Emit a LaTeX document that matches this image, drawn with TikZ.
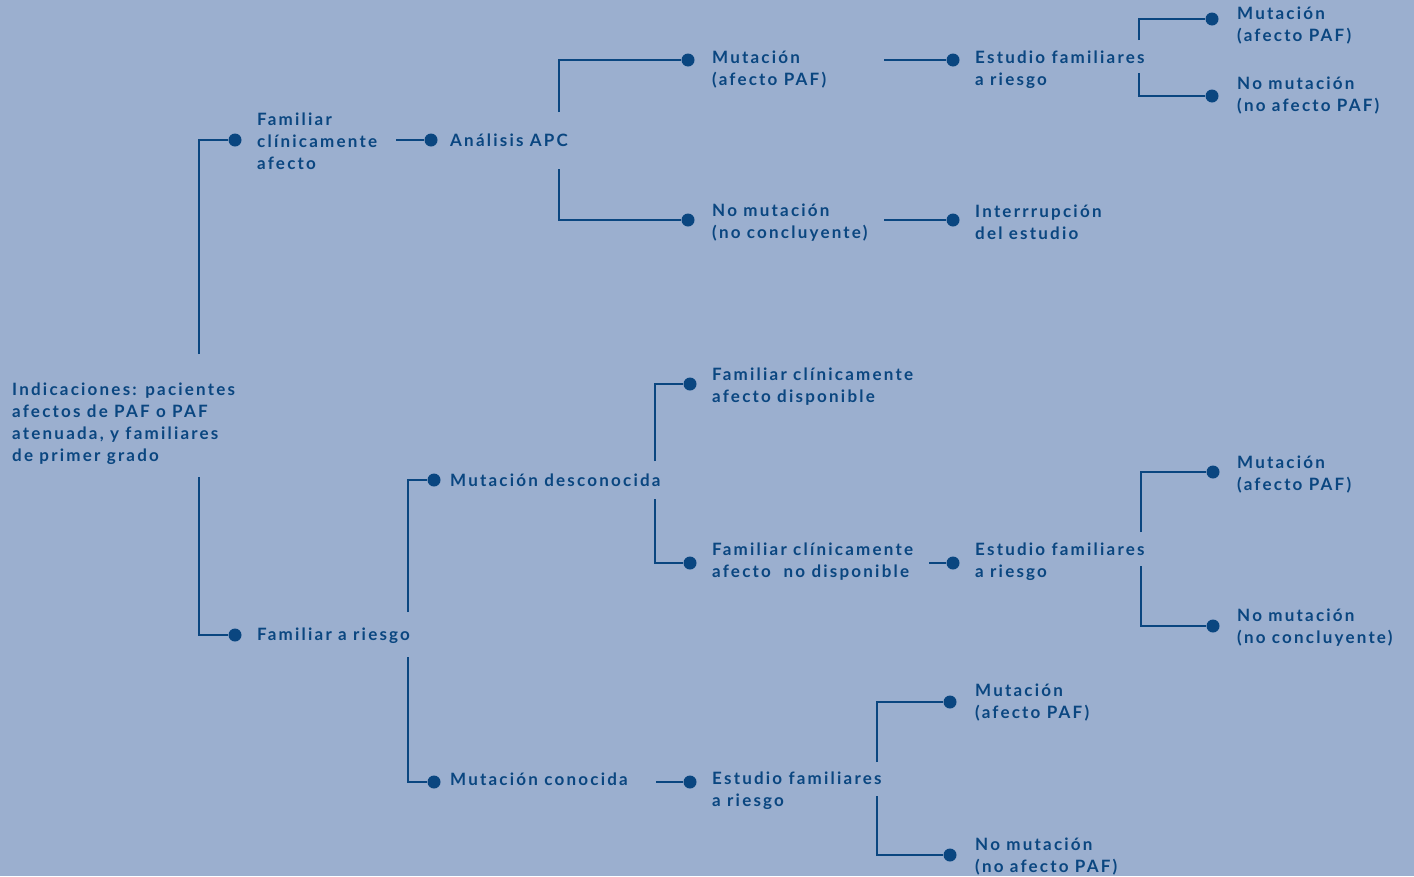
\documentclass[tikz,border=0pt]{standalone}
\usepackage{fontspec}
\setmainfont{Lato}[LetterSpace=13]
\definecolor{bg}{RGB}{155,175,207}
\definecolor{fg}{RGB}{10,70,128}
\begin{document}
\begin{tikzpicture}[x=1pt,y=-1pt,
  dot/.style={circle,fill=fg,inner sep=0pt,minimum size=13pt},
  lbl/.style={anchor=west,align=left,inner sep=0pt,text=fg,font=\fontsize{17}{22}\selectfont\bfseries},
  ln/.style={draw=fg,line width=2.6pt}]
\fill[bg] (0,0) rectangle (1414,876);
\useasboundingbox (0,0) rectangle (1414,876);
% root
\node[lbl] (root) at (12,424) {Indicaciones: pacientes\\afectos de PAF o PAF\\atenuada, y familiares\\de primer grado};
\coordinate (rTop) at (199,354);
\coordinate (rBot) at (199,477);
% upper branch
\node[dot] (dFCA) at (235,140) {};
\node[lbl] (tFCA) at (257,141) {Familiar\\clínicamente\\afecto};
\draw[ln] (rTop) |- (dFCA);
\coordinate (cFCA) at (396,140);
\node[dot] (dAPC) at (431,140) {};
\node[lbl] (tAPC) at (450,140) {Análisis APC};
\draw[ln] (cFCA) -- (dAPC);
\coordinate (apcTop) at (559,112);
\coordinate (apcBot) at (559,169);
\node[dot] (dMut1) at (688,60) {};
\node[lbl] (tMut1) at (712,70) {Mutación\\(afecto PAF)};
\node[dot] (dNo1) at (688,220) {};
\node[lbl] (tNo1) at (712,223) {No mutación\\(no concluyente)};
\draw[ln] (apcTop) |- (dMut1);
\draw[ln] (apcBot) |- (dNo1);
\coordinate (cMut1) at (884,60);
\node[dot] (dEst1) at (953,60) {};
\node[lbl] (tEst1) at (975,70) {Estudio familiares\\a riesgo};
\draw[ln] (cMut1) -- (dEst1);
\coordinate (cNo1) at (884,220);
\node[dot] (dInt) at (953,220) {};
\node[lbl] (tInt) at (975,222) {Interrrupción\\del estudio};
\draw[ln] (cNo1) -- (dInt);
\coordinate (e1Top) at (1139,40);
\coordinate (e1Bot) at (1139,73);
\node[dot] (dMut2) at (1212,19) {};
\node[lbl] (tMut2) at (1237,26) {Mutación\\(afecto PAF)};
\node[dot] (dNo2) at (1212,96) {};
\node[lbl] (tNo2) at (1237,96) {No mutación\\(no afecto PAF)};
\draw[ln] (e1Top) |- (dMut2);
\draw[ln] (e1Bot) |- (dNo2);
% lower branch
\node[dot] (dFR) at (235,635) {};
\node[lbl] (tFR) at (257,636) {Familiar a riesgo};
\draw[ln] (rBot) |- (dFR);
\coordinate (frTop) at (408,612);
\coordinate (frBot) at (408,657);
\node[dot] (dMD) at (434,480) {};
\node[lbl] (tMD) at (450,480) {Mutación desconocida};
\node[dot] (dMC) at (434,782) {};
\node[lbl] (tMC) at (450,779) {Mutación conocida};
\draw[ln] (frTop) |- (dMD);
\draw[ln] (frBot) |- (dMC);
\coordinate (mdTop) at (655,461);
\coordinate (mdBot) at (655,499);
\node[dot] (dDisp) at (690,384) {};
\node[lbl] (tDisp) at (712,387) {Familiar clínicamente\\afecto disponible};
\node[dot] (dNoDisp) at (690,563) {};
\node[lbl] (tNoDisp) at (712,562) {Familiar clínicamente\\afecto\ \ no disponible};
\draw[ln] (mdTop) |- (dDisp);
\draw[ln] (mdBot) |- (dNoDisp);
\coordinate (cND) at (929,563);
\node[dot] (dEst2) at (953,563) {};
\node[lbl] (tEst2) at (975,562) {Estudio familiares\\a riesgo};
\draw[ln] (cND) -- (dEst2);
\coordinate (e2Top) at (1141,532);
\coordinate (e2Bot) at (1141,566);
\node[dot] (dMut3) at (1213,472) {};
\node[lbl] (tMut3) at (1237,475) {Mutación\\(afecto PAF)};
\node[dot] (dNo3) at (1213,626) {};
\node[lbl] (tNo3) at (1237,628) {No mutación\\(no concluyente)};
\draw[ln] (e2Top) |- (dMut3);
\draw[ln] (e2Bot) |- (dNo3);
\coordinate (cMC) at (656,782);
\node[dot] (dEst3) at (690,782) {};
\node[lbl] (tEst3) at (712,791) {Estudio familiares\\a riesgo};
\draw[ln] (cMC) -- (dEst3);
\coordinate (e3Top) at (877,762);
\coordinate (e3Bot) at (877,796);
\node[dot] (dMut4) at (950,702) {};
\node[lbl] (tMut4) at (975,703) {Mutación\\(afecto PAF)};
\node[dot] (dNo4) at (950,855) {};
\node[lbl] (tNo4) at (975,857) {No mutación\\(no afecto PAF)};
\draw[ln] (e3Top) |- (dMut4);
\draw[ln] (e3Bot) |- (dNo4);
\end{tikzpicture}
\end{document}
